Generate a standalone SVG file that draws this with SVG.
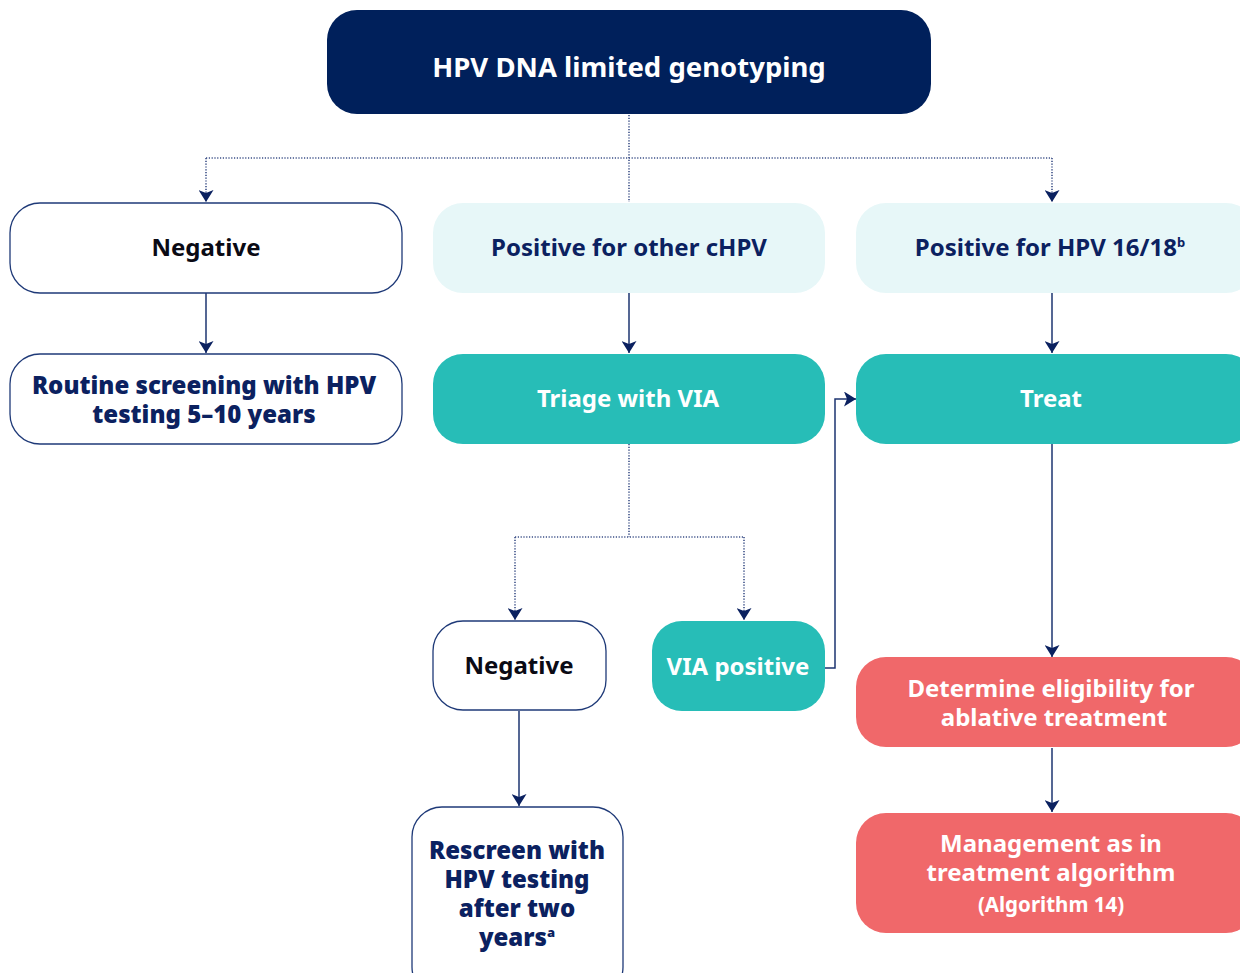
<svg xmlns="http://www.w3.org/2000/svg" width="1240" height="973" viewBox="0 0 1240 973">
  <defs>
    <marker id="arrow" viewBox="0 0 12 15" refX="12" refY="7.5" markerWidth="12" markerHeight="15" markerUnits="userSpaceOnUse" orient="auto">
      <path d="M0,0 L12,7.5 L0,15 L3,7.5 Z" fill="#0b2160"/>
    </marker>
    <style>
      .box-out { fill: #ffffff; stroke: #1f3a78; stroke-width: 1.3; }
      .box-light { fill: #e7f7f8; }
      .box-teal { fill: #27bdb7; }
      .box-red { fill: #f0686a; }
      .box-navy { fill: #00205b; }
      .t { font-family: "Noto Sans", "Open Sans", sans-serif; font-weight: 700; font-size: 24px; text-anchor: middle; }
      .t-navy { fill: #0b2160; }
      .t-black { fill: #0a0a14; }
      .t-white { fill: #ffffff; }
      .t-heavy { font-weight: 900; }
      .link { fill: none; stroke: #1c3470; stroke-width: 1.5; }
      .dot { fill: none; stroke: #3c5088; stroke-width: 1.6; stroke-dasharray: 1.2 1.6; }
    </style>
  </defs>

  <!-- connectors -->
  <g id="connectors">
    <path class="dot" d="M629,115 V202"/>
    <path class="dot" d="M206,158 H1052"/>
    <path class="dot" d="M206,158 V202" marker-end="url(#arrow)"/>
    <path class="dot" d="M1052,158 V202" marker-end="url(#arrow)"/>
    <path class="link" d="M206,293 V353" marker-end="url(#arrow)"/>
    <path class="link" d="M629,293 V353" marker-end="url(#arrow)"/>
    <path class="link" d="M1052,293 V353" marker-end="url(#arrow)"/>
    <path class="dot" d="M629,444 V537"/>
    <path class="dot" d="M515,537 H744"/>
    <path class="dot" d="M515,537 V620" marker-end="url(#arrow)"/>
    <path class="dot" d="M744,537 V620" marker-end="url(#arrow)"/>
    <path class="link" d="M825,668 H835 V399 H856" marker-end="url(#arrow)"/>
    <path class="link" d="M1052,444 V657" marker-end="url(#arrow)"/>
    <path class="link" d="M1052,748 V812" marker-end="url(#arrow)"/>
    <path class="link" d="M519,711 V806" marker-end="url(#arrow)"/>
  </g>

  <!-- nodes -->
  <g id="node-hpv-dna">
    <rect class="box-navy" x="327" y="10" width="604" height="104" rx="30"/>
    <text class="t t-white" x="629" y="77" style="font-size:27.5px">HPV DNA limited genotyping</text>
  </g>

  <g id="node-negative">
    <rect class="box-out" x="10" y="203" width="392" height="90" rx="30"/>
    <text class="t t-black" x="206" y="256">Negative</text>
  </g>

  <g id="node-positive-other">
    <rect class="box-light" x="433" y="203" width="392" height="90" rx="30"/>
    <text class="t t-navy" x="629" y="256">Positive for other cHPV</text>
  </g>

  <g id="node-positive-1618">
    <rect class="box-light" x="856" y="203" width="400" height="90" rx="30"/>
    <text class="t t-navy" x="1050" y="256">Positive for HPV 16/18<tspan font-size="13" dy="-9">b</tspan></text>
  </g>

  <g id="node-routine">
    <rect class="box-out" x="10" y="354" width="392" height="90" rx="30"/>
    <text class="t t-navy t-heavy" x="204" y="394">Routine screening with HPV</text>
    <text class="t t-navy t-heavy" x="204" y="423">testing 5–10 years</text>
  </g>

  <g id="node-triage">
    <rect class="box-teal" x="433" y="354" width="392" height="90" rx="30"/>
    <text class="t t-white" x="628" y="407">Triage with VIA</text>
  </g>

  <g id="node-treat">
    <rect class="box-teal" x="856" y="354" width="400" height="90" rx="30"/>
    <text class="t t-white" x="1051" y="407">Treat</text>
  </g>

  <g id="node-negative-via">
    <rect class="box-out" x="433" y="621" width="173" height="89" rx="30"/>
    <text class="t t-black" x="519" y="674">Negative</text>
  </g>

  <g id="node-via-positive">
    <rect class="box-teal" x="652" y="621" width="173" height="90" rx="30"/>
    <text class="t t-white" x="738" y="675">VIA positive</text>
  </g>

  <g id="node-eligibility">
    <rect class="box-red" x="856" y="657" width="400" height="90" rx="30"/>
    <text class="t t-white" x="1051" y="697">Determine eligibility for</text>
    <text class="t t-white" x="1054" y="726">ablative treatment</text>
  </g>

  <g id="node-management">
    <rect class="box-red" x="856" y="813" width="400" height="120" rx="30"/>
    <text class="t t-white" x="1051" y="852">Management as in</text>
    <text class="t t-white" x="1051" y="881">treatment algorithm</text>
    <text class="t t-white" x="1051" y="912" style="font-size:20.5px">(Algorithm 14)</text>
  </g>

  <g id="node-rescreen">
    <rect class="box-out" x="412" y="807" width="211" height="190" rx="30"/>
    <text class="t t-navy t-heavy" x="517" y="859">Rescreen with</text>
    <text class="t t-navy t-heavy" x="517" y="888">HPV testing</text>
    <text class="t t-navy t-heavy" x="517" y="917">after two</text>
    <text class="t t-navy t-heavy" x="517" y="946">years<tspan font-size="13" dy="-9">a</tspan></text>
  </g>
</svg>
